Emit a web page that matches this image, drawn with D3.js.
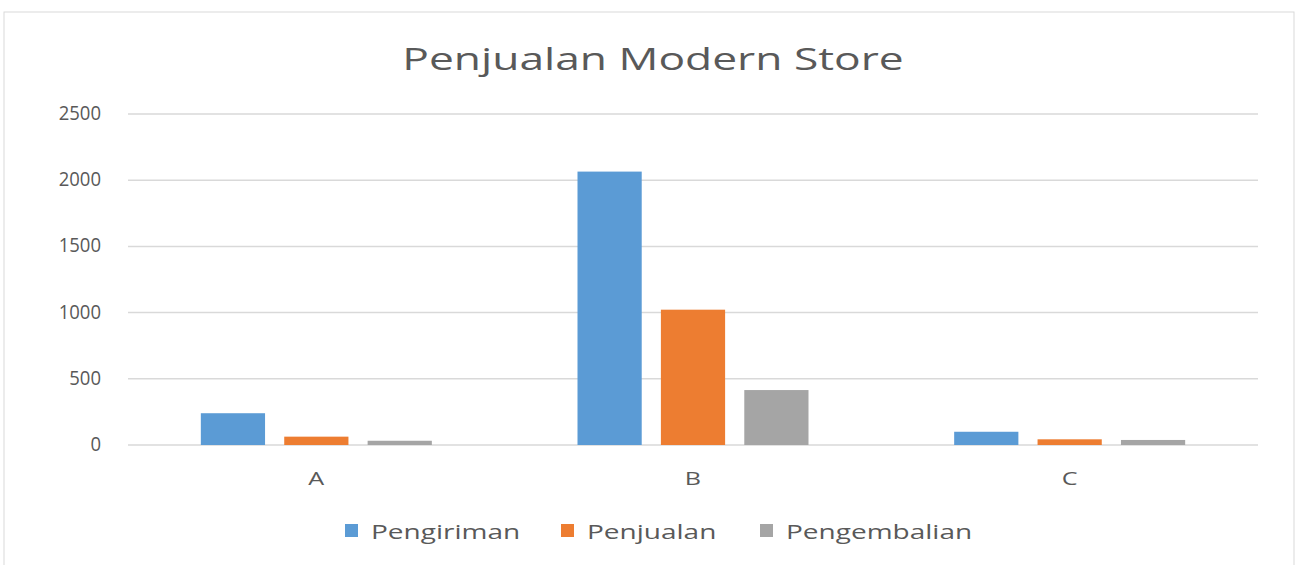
<!DOCTYPE html>
<html lang="en">
<head>
<meta charset="UTF-8">
<script src="https://d3js.org/d3.v7.min.js"></script>
<title>Penjualan Modern Store</title>
<style>
  body { margin: 0; background: #fff; }
  text { font-family: "Open Sans", sans-serif; fill: #595959; }
</style>
</head>
<body>
<div id="chart"></div>
<script>
// data
const categories = ["A", "B", "C"]
const seriesNames = ["Pengiriman", "Penjualan", "Pengembalian"]
const pengiriman = [240, 2065, 100]
const penjualan = [63, 1022, 43]
const pengembalian = [32, 415, 38]
const yTicks = [0, 500, 1000, 1500, 2000, 2500]

const colors = ["#5B9BD5", "#ED7D31", "#A5A5A5"]
const values = [pengiriman, penjualan, pengembalian]

const width = 1296, height = 565
const sx = 1.4   // the picture is stretched sideways

const svg = d3.select("#chart").append("svg")
    .attr("width", width)
    .attr("height", height)

// frame
svg.append("rect")
    .attr("x", 4).attr("y", 12)
    .attr("width", 1290).attr("height", 570)
    .attr("fill", "#fff")
    .attr("stroke", "#d9d9d9")

// title
svg.append("text")
    .attr("transform", `translate(653,70) scale(1.43,1)`)
    .attr("text-anchor", "middle")
    .style("font-size", "31px")
    .text("Penjualan Modern Store")

const x = d3.scaleBand()
    .domain(categories)
    .range([128, 1258])

const xInner = d3.scaleBand()
    .domain(seriesNames)
    .range([0, 231])
    .paddingInner(0.23)

const y = d3.scaleLinear()
    .domain([0, 2500])
    .range([445, 114])

// gridlines
svg.append("g")
    .selectAll("line")
    .data(yTicks)
    .join("line")
      .attr("x1", 128).attr("x2", 1258)
      .attr("y1", d => y(d)).attr("y2", d => y(d))
      .attr("stroke", "#d9d9d9")
      .attr("stroke-width", 1.5)

// y labels
svg.append("g")
    .selectAll("text")
    .data(yTicks)
    .join("text")
      .attr("transform", d => `translate(101,${y(d) + 6}) scale(0.95,1)`)
      .attr("text-anchor", "end")
      .style("font-size", "19.5px")
      .text(d => d)

// bars
categories.forEach((c, i) => {
    const g = svg.append("g")
        .attr("transform", `translate(${x(c) + (x.bandwidth() - 231) / 2},0)`)
    g.selectAll("rect")
        .data(seriesNames)
        .join("rect")
          .attr("x", s => xInner(s))
          .attr("width", xInner.bandwidth())
          .attr("y", (s, j) => y(values[j][i]))
          .attr("height", (s, j) => y(0) - y(values[j][i]))
          .attr("fill", (s, j) => colors[j])
})

// x labels
svg.append("g")
    .selectAll("text")
    .data(categories)
    .join("text")
      .attr("transform", d => `translate(${x(d) + x.bandwidth() / 2},485) scale(${sx},1)`)
      .attr("text-anchor", "middle")
      .style("font-size", "18px")
      .text(d => d)

// legend
const legendX = [345, 561, 760]
const legend = svg.append("g")
    .selectAll("g")
    .data(seriesNames)
    .join("g")
      .attr("transform", (d, i) => `translate(${legendX[i]},0)`)
legend.append("rect")
    .attr("y", 524).attr("width", 13).attr("height", 13)
    .attr("fill", (d, i) => colors[i])
legend.append("text")
    .attr("transform", `translate(26,539) scale(${sx},1)`)
    .style("font-size", "20px")
    .text(d => d)
</script>
</body>
</html>
